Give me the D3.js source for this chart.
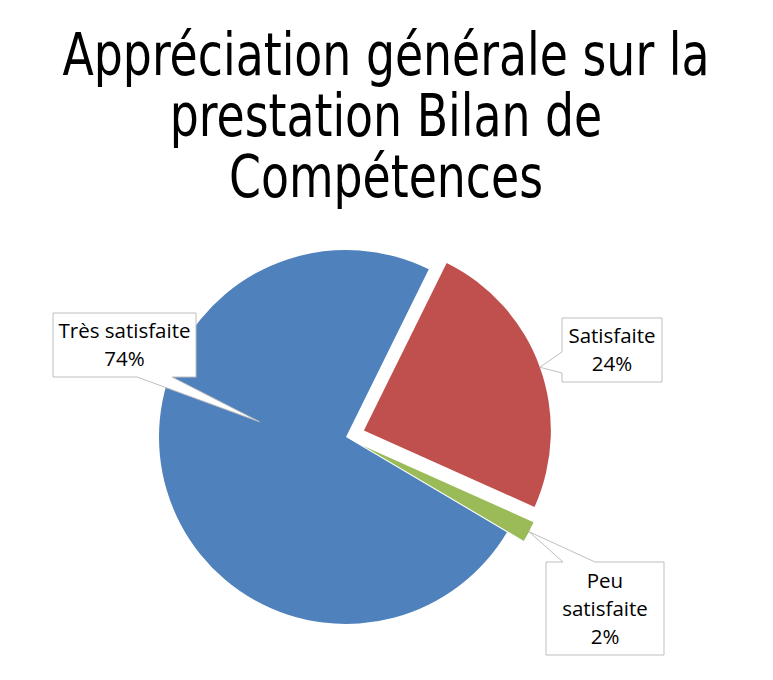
<!DOCTYPE html>
<html>
<head>
<meta charset="utf-8">
<script src="https://cdn.jsdelivr.net/npm/d3@7"></script>
<style>
  html, body { margin: 0; padding: 0; background: #fff; }
  svg { display: block; }
</style>
</head>
<body>
<div id="chart"></div>
<script>
// data
const categories = ["Très satisfaite", "Satisfaite", "Peu satisfaite"];
const values = [73.8, 24.4, 1.8];
const colors = ["#4F81BD", "#C0504D", "#9BBB59"];
const titleLines = ["Appréciation générale sur la", "prestation Bilan de", "Compétences"];

// label boxes: lines of text (category wrapped like the picture)
const labelLines = [["Très satisfaite"], ["Satisfaite"], ["Peu", "satisfaite"]];
const explode = [0, 19, 19];

const width = 773, height = 680;
const cx = 346, cy = 437, radius = 187;

const svg = d3.select("#chart").append("svg")
    .attr("width", width)
    .attr("height", height);

// title - the original uses a narrow face, so squeeze a condensed one to the same width
const titleG = svg.append("g");
const titleText = titleG.selectAll("text")
    .data(titleLines)
    .join("text")
    .attr("x", 0)
    .attr("y", (d, i) => 75 + i * 61)
    .attr("text-anchor", "middle")
    .style("font-family", "'DejaVu Sans', sans-serif")
    .style("font-stretch", "condensed")
    .style("font-size", "58px")
    .style("fill", "#000")
    .text(d => d);
const w1 = titleText.node().getComputedTextLength();
const sx = 647 / w1;
titleG.attr("transform", "translate(386,0) scale(" + sx + ",1)");

// pie
const total = d3.sum(values);
const pie = d3.pie().sort(null).value(d => d)
    .startAngle(120.6 * Math.PI / 180)
    .endAngle((120.6 + 360) * Math.PI / 180);
const arcs = pie(values);
const arc = d3.arc().innerRadius(0).outerRadius(radius);

function offset(a, dist) {
    const mid = (a.startAngle + a.endAngle) / 2;
    return [Math.sin(mid) * dist, -Math.cos(mid) * dist];
}

const g = svg.append("g").attr("transform", "translate(" + cx + "," + cy + ")");

g.selectAll("path")
    .data(arcs)
    .join("path")
    .attr("d", arc)
    .attr("transform", (d, i) => "translate(" + offset(d, explode[i]) + ")")
    .style("fill", (d, i) => colors[i]);

// callouts
const callouts = [
    { box: [53, 313, 143, 64], side: "bottom", base: [137, 172], tipAngle: 280, tipR: 0.47 },
    { box: [562, 318, 100, 64], side: "left", base: [352, 373], tipAngle: null, tipR: 1 },
    { box: [546, 562, 118, 93], side: "top", base: [563, 595], tipAngle: null, tipR: 1 }
];

function tipPoint(a, i) {
    const c = callouts[i];
    const ang = c.tipAngle === null ? (a.startAngle + a.endAngle) / 2 : c.tipAngle * Math.PI / 180;
    const o = offset(a, explode[i]);
    return [cx + o[0] + Math.sin(ang) * radius * c.tipR,
            cy + o[1] - Math.cos(ang) * radius * c.tipR];
}

function calloutPath(c, tip) {
    const [x, y, w, h] = c.box;
    const p = d3.path();
    if (c.side === "bottom") {
        p.moveTo(x, y); p.lineTo(x + w, y); p.lineTo(x + w, y + h);
        p.lineTo(c.base[1], y + h); p.lineTo(tip[0], tip[1]); p.lineTo(c.base[0], y + h);
        p.lineTo(x, y + h);
    } else if (c.side === "left") {
        p.moveTo(x, y); p.lineTo(x + w, y); p.lineTo(x + w, y + h); p.lineTo(x, y + h);
        p.lineTo(x, c.base[1]); p.lineTo(tip[0], tip[1]); p.lineTo(x, c.base[0]);
    } else {
        p.moveTo(x, y); p.lineTo(c.base[0], y); p.lineTo(tip[0], tip[1]); p.lineTo(c.base[1], y);
        p.lineTo(x + w, y); p.lineTo(x + w, y + h); p.lineTo(x, y + h);
    }
    p.closePath();
    return p.toString();
}

const labels = svg.append("g");

arcs.forEach(function(a, i) {
    const c = callouts[i];
    const tip = tipPoint(a, i);
    labels.append("path")
        .attr("d", calloutPath(c, tip))
        .style("fill", "#fff")
        .style("stroke", "#BFBFBF")
        .style("stroke-width", 1);

    const lines = labelLines[i].concat([Math.round(values[i] / total * 100) + "%"]);
    const [x, y, w, h] = c.box;
    const lh = 28;
    const firstY = y + h / 2 - (lines.length - 1) * lh / 2 + 7;
    labels.append("g")
        .selectAll("text")
        .data(lines)
        .join("text")
        .attr("x", x + w / 2)
        .attr("y", (d, j) => firstY + j * lh)
        .attr("text-anchor", "middle")
        .style("font-family", "'Open Sans', sans-serif")
        .style("font-size", "20.5px")
        .style("fill", "#000")
        .text(d => d);
});
</script>
</body>
</html>
